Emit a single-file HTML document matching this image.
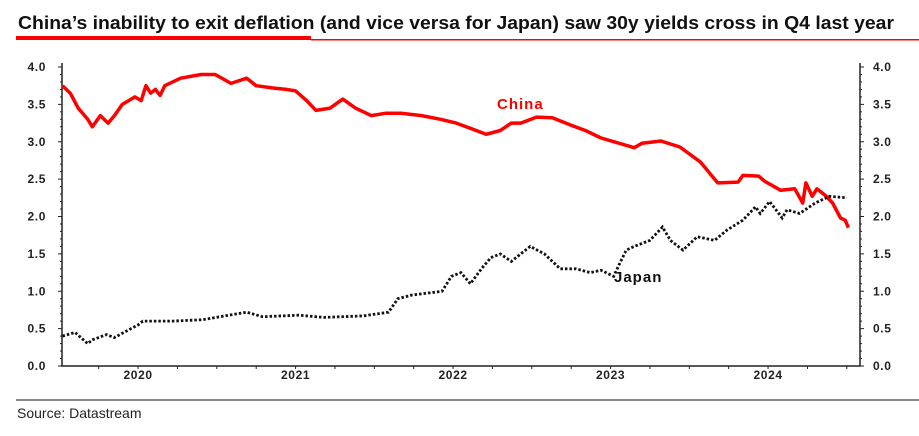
<!DOCTYPE html>
<html><head><meta charset="utf-8"><style>
body{margin:0;background:#fff;width:919px;height:431px;overflow:hidden;font-family:"Liberation Sans",sans-serif}
</style></head><body>
<svg id="c" width="919" height="431" xmlns="http://www.w3.org/2000/svg">
<text x="18" y="29" font-family="Liberation Sans, sans-serif" font-weight="bold" font-size="18.5" fill="#111" textLength="876" lengthAdjust="spacingAndGlyphs">China’s inability to exit deflation (and vice versa for Japan) saw 30y yields cross in Q4 last year</text>
<rect x="16" y="36" width="295" height="4" fill="#f00"/>
<rect x="311" y="39" width="608" height="1.5" fill="#f00"/>
<rect x="16" y="399" width="903" height="2" fill="#888"/>
<text x="17" y="418" font-size="14" fill="#222">Source: Datastream</text>
<g id="axes"></g>
<g id="series"></g>
<text x="497" y="109" font-size="15" font-weight="bold" fill="#f00" letter-spacing="1">China</text>
<text x="614" y="282" font-size="15" font-weight="bold" fill="#111" letter-spacing="1">Japan</text>
</svg>
<script>
const chinaDates=[2019.52,2019.57,2019.62,2019.68,2019.71,2019.76,2019.81,2019.85,2019.90,2019.98,2020.02,2020.05,2020.08,2020.11,2020.14,2020.17,2020.27,2020.40,2020.49,2020.59,2020.69,2020.75,2020.85,2020.94,2021.00,2021.07,2021.13,2021.22,2021.30,2021.38,2021.48,2021.57,2021.67,2021.80,2021.92,2022.02,2022.11,2022.21,2022.30,2022.37,2022.43,2022.53,2022.63,2022.75,2022.84,2022.94,2023.15,2023.20,2023.32,2023.44,2023.57,2023.68,2023.81,2023.84,2023.94,2023.98,2024.08,2024.17,2024.22,2024.24,2024.28,2024.31,2024.37,2024.41,2024.46,2024.49,2024.51];
const chinaValues=[3.75,3.65,3.45,3.3,3.2,3.35,3.25,3.35,3.5,3.6,3.55,3.75,3.65,3.7,3.62,3.75,3.85,3.9,3.9,3.78,3.85,3.75,3.72,3.7,3.68,3.55,3.42,3.45,3.57,3.45,3.35,3.38,3.38,3.35,3.3,3.25,3.18,3.1,3.15,3.25,3.25,3.33,3.32,3.22,3.15,3.05,2.92,2.98,3.01,2.93,2.73,2.45,2.46,2.55,2.54,2.47,2.35,2.37,2.18,2.45,2.27,2.37,2.27,2.18,1.98,1.95,1.85];
const japanDates=[2019.52,2019.60,2019.68,2019.71,2019.80,2019.85,2019.91,2020.00,2020.03,2020.22,2020.41,2020.69,2020.79,2021.02,2021.18,2021.43,2021.59,2021.65,2021.74,2021.93,2021.99,2022.05,2022.11,2022.18,2022.24,2022.30,2022.37,2022.49,2022.58,2022.68,2022.78,2022.87,2022.94,2023.02,2023.06,2023.10,2023.15,2023.25,2023.33,2023.38,2023.46,2023.55,2023.66,2023.74,2023.84,2023.92,2023.95,2024.01,2024.09,2024.12,2024.20,2024.30,2024.39,2024.50];
const japanValues=[0.4,0.45,0.3,0.35,0.42,0.38,0.45,0.55,0.6,0.6,0.62,0.72,0.66,0.68,0.65,0.67,0.72,0.9,0.95,1.0,1.2,1.25,1.1,1.3,1.45,1.5,1.4,1.6,1.5,1.3,1.3,1.25,1.28,1.2,1.38,1.55,1.6,1.68,1.86,1.68,1.55,1.73,1.68,1.82,1.95,2.13,2.04,2.2,1.98,2.09,2.04,2.18,2.27,2.25];
const yTicks=[0,0.5,1,1.5,2,2.5,3,3.5,4];
const yearLabels=[2020,2021,2022,2023,2024];
const NS="http://www.w3.org/2000/svg";
const L=62,R=860,T=67,B=366,X0=2019.517,PX=157.5;
const xs=t=>L+(t-X0)*PX, ys=v=>B-(v/4)*(B-T);
function mk(tag,attrs,parent){const e=document.createElementNS(NS,tag);for(const k in attrs)e.setAttribute(k,attrs[k]);parent.appendChild(e);return e;}
const ax=document.getElementById('axes');
let e=mk('path',{d:`M${L},${T-4}V${B}H${R}V${T-4}`,stroke:'#222','stroke-width':1.5,fill:'none'},ax);


for(let v=0;v<=40;v++){const y=ys(v/10);const len=v%5===0?4:2;
 mk('line',{x1:L-len,x2:L,y1:y,y2:y,stroke:'#222'},ax);
 mk('line',{x1:R,x2:R+len,y1:y,y2:y,stroke:'#222'},ax);}
yTicks.forEach(v=>{
 let t=mk('text',{x:46,y:ys(v)+4,'text-anchor':'end','font-size':12,'font-weight':'bold',fill:'#222','letter-spacing':0.6},ax);t.textContent=v.toFixed(1);
 
 
 let t2=mk('text',{x:873,y:ys(v)+4,'font-size':12,'font-weight':'bold',fill:'#222','letter-spacing':0.6},ax);t2.textContent=v.toFixed(1);
 
 });
for(let q=2019.75;q<=2024.51;q+=0.25){const x=xs(q);mk('line',{x1:x,x2:x,y1:B,y2:B+3,stroke:'#222'},ax);}
yearLabels.forEach(yr=>{let t=mk('text',{x:xs(yr),y:B+13,'text-anchor':'middle','font-size':12,'font-weight':'bold',fill:'#222','letter-spacing':0.6},ax);t.textContent=yr;
 
 });
const sg=document.getElementById('series');
function line(d,v){return d.map((t,i)=>(i?'L':'M')+xs(t).toFixed(1)+','+ys(v[i]).toFixed(1)).join('');}
let cl=mk('path',{d:line(chinaDates,chinaValues),stroke:'#f00','stroke-width':3.5,fill:'none','stroke-linejoin':'round'},sg);


let jl=mk('path',{d:line(japanDates,japanValues),stroke:'#111','stroke-width':2.8,fill:'none','stroke-dasharray':'2.5 2'},sg);


</script>
</body></html>
